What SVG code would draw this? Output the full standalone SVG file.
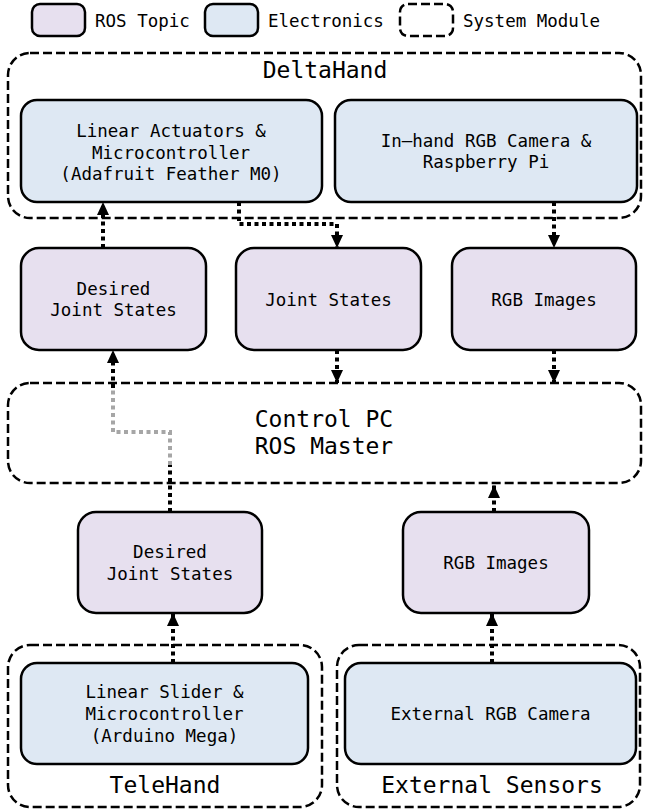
<svg xmlns="http://www.w3.org/2000/svg" width="647" height="812" viewBox="0 0 647 812">
<style>
text{font-family:"DejaVu Sans Mono","Liberation Mono",monospace;fill:#000;text-anchor:middle}
.t{font-size:17.5px}
.big{font-size:23px}
.lg{font-size:17.5px;text-anchor:start}
.topic{fill:#e7e0ef;stroke:#000;stroke-width:2.5}
.elec{fill:#dee8f3;stroke:#000;stroke-width:2.5}
.mod{fill:none;stroke:#000;stroke-width:2.5;stroke-dasharray:9 4}
.c{fill:none;stroke:#000;stroke-width:4;stroke-dasharray:4 3.5}
.g{fill:none;stroke:#a6a6a6;stroke-width:4;stroke-dasharray:4 3.5}
</style>
<defs>
<marker id="ah" viewBox="0 0 13 12" refX="13" refY="6" markerWidth="13" markerHeight="12" markerUnits="userSpaceOnUse" orient="auto">
<path d="M0,0 L13,6 L0,12 z" fill="#000"/>
</marker>
</defs>
<g id="legend">
<rect x="32" y="4" width="53" height="32" rx="8" class="topic"/>
<text class="lg" x="95" y="27">ROS Topic</text>
<rect x="205" y="4" width="53" height="32" rx="8" class="elec"/>
<text class="lg" x="268" y="27">Electronics</text>
<rect x="400" y="4" width="53" height="32" rx="8" class="mod"/>
<text class="lg" x="463" y="27">System Module</text>
</g>
<g id="deltahand">
<rect x="8" y="53" width="633" height="165" rx="22" class="mod"/>
<text class="big" x="325" y="78">DeltaHand</text>
</g>
<g id="control-pc">
<rect x="8" y="383" width="633" height="100" rx="22" class="mod"/>
<text class="big" x="324" y="427">Control PC</text>
<text class="big" x="324" y="454">ROS Master</text>
</g>
<g id="telehand">
<rect x="8" y="645" width="314" height="162" rx="22" class="mod"/>
<text class="big" x="165" y="793">TeleHand</text>
</g>
<g id="external-sensors">
<rect x="337" y="645" width="303" height="162" rx="22" class="mod"/>
<text class="big" x="492" y="793">External Sensors</text>
</g>
<g id="connectors">
<path class="c" d="M239,202 V224 H337 V248" marker-end="url(#ah)"/>
<path class="c" d="M554,202 V248" marker-end="url(#ah)"/>
<path class="c" d="M103,248 V202" marker-end="url(#ah)"/>
<path class="c" d="M337,350 V383" marker-end="url(#ah)"/>
<path class="c" d="M554,350 V383" marker-end="url(#ah)"/>
<path class="c" d="M170,512 V465"/>
<path class="g" d="M170,465 V432 H113 V388"/>
<path class="c" d="M113,388 V350" marker-end="url(#ah)"/>
<path class="c" d="M494,512 V485" marker-end="url(#ah)"/>
<path class="c" d="M173,663 V613" marker-end="url(#ah)"/>
<path class="c" d="M492,663 V613" marker-end="url(#ah)"/>
</g>
<g id="linear-actuators">
<rect x="21" y="100" width="301" height="102" rx="16" class="elec"/>
<text class="t" x="171" y="137">Linear Actuators &amp;</text>
<text class="t" x="171" y="158.5">Microcontroller</text>
<text class="t" x="171" y="180">(Adafruit Feather M0)</text>
</g>
<g id="inhand-camera">
<rect x="335" y="100" width="302" height="102" rx="16" class="elec"/>
<text class="t" x="486" y="147">In–hand RGB Camera &amp;</text>
<text class="t" x="486" y="168">Raspberry Pi</text>
</g>
<g id="desired-joint-states-top">
<rect x="21" y="248" width="185" height="102" rx="18" class="topic"/>
<text class="t" x="113.5" y="295">Desired</text>
<text class="t" x="113.5" y="316">Joint States</text>
</g>
<g id="joint-states">
<rect x="236" y="248" width="185" height="102" rx="18" class="topic"/>
<text class="t" x="328.5" y="305.5">Joint States</text>
</g>
<g id="rgb-images-top">
<rect x="452" y="248" width="184" height="102" rx="18" class="topic"/>
<text class="t" x="544" y="305.5">RGB Images</text>
</g>
<g id="desired-joint-states-bottom">
<rect x="78" y="512" width="184" height="101" rx="18" class="topic"/>
<text class="t" x="170" y="558">Desired</text>
<text class="t" x="170" y="580">Joint States</text>
</g>
<g id="rgb-images-bottom">
<rect x="403" y="512" width="186" height="101" rx="18" class="topic"/>
<text class="t" x="496" y="569">RGB Images</text>
</g>
<g id="linear-slider">
<rect x="21" y="663" width="287" height="101" rx="16" class="elec"/>
<text class="t" x="164.5" y="698">Linear Slider &amp;</text>
<text class="t" x="164.5" y="720">Microcontroller</text>
<text class="t" x="164.5" y="741.5">(Arduino Mega)</text>
</g>
<g id="external-camera">
<rect x="345" y="663" width="291" height="101" rx="16" class="elec"/>
<text class="t" x="490.5" y="720">External RGB Camera</text>
</g>
</svg>
